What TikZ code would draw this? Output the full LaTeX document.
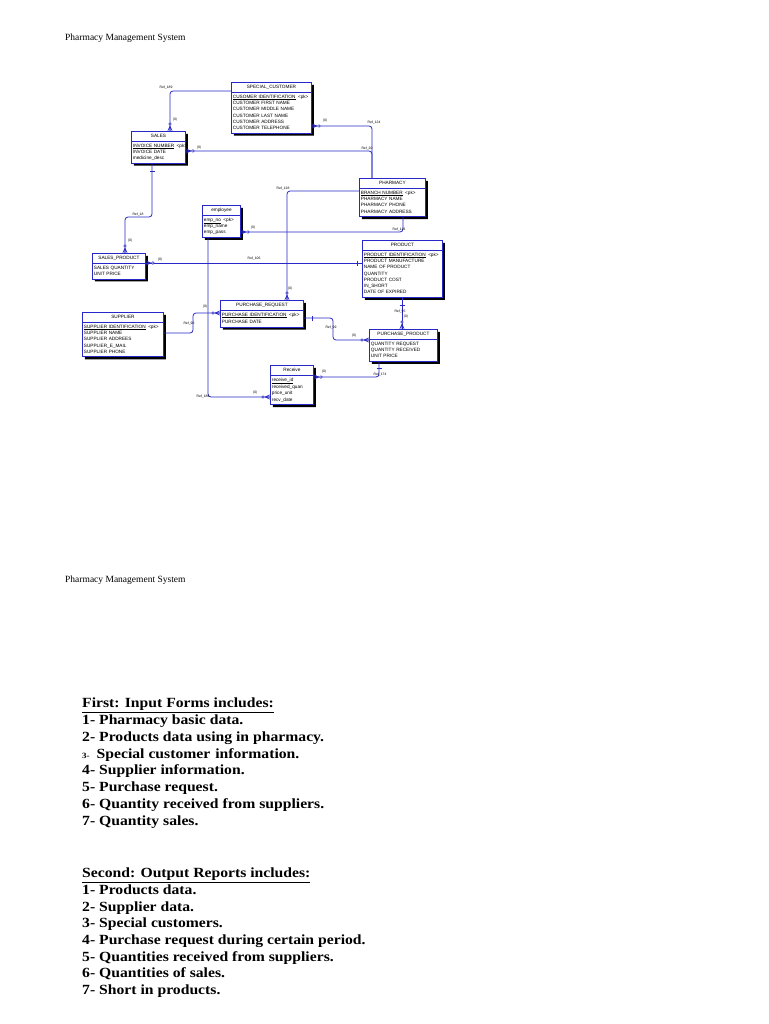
\documentclass[tikz,border=0pt]{standalone}
\usepackage{fontspec}
\setmainfont{Liberation Serif}
\newfontfamily\erdsans{Liberation Sans}
\newfontfamily\notefont[FakeStretch=1.12]{Liberation Serif}
\usetikzlibrary{shapes.multipart,shadows}

\definecolor{erdblue}{RGB}{40,40,200}

\newcommand{\erdfont}{\erdsans\fontsize{4.7}{6.3}\selectfont}
\newcommand{\reffont}{\erdsans\fontsize{3.4}{4}\selectfont}
\newcommand{\pkmark}{\rlap{\hspace{2.5pt}<pk>}}

\tikzset{
  entity/.style={rectangle split, rectangle split parts=2, draw=erdblue, line width=0.9pt,
    fill=white, anchor=north west, align=left, font=\erdfont, inner xsep=1.5pt, inner ysep=1.2pt,
    drop shadow={shadow xshift=2.5pt, shadow yshift=-2.5pt, fill=black, opacity=1}},
  rel/.style={draw=erdblue, line width=0.8pt, rounded corners=3pt},
  reflabel/.style={font=\reffont, inner sep=0.3pt},
  pagehead/.style={anchor=west, inner sep=0pt, font=\fontsize{9.5}{10}\selectfont},
  noteline/.style={anchor=base west, inner sep=0pt, font=\notefont\bfseries\fontsize{14}{16}\selectfont},
  crowfoot/.pic={
    \draw[erdblue, line width=0.6pt] (-5,0) -- (0,-2.2) (-5,0) -- (0,0) (-5,0) -- (0,2.2);
    \draw[erdblue, line width=0.5pt, fill=white] (-7,0) circle (1.3pt);
  },
  onebar/.pic={\draw[erdblue, line width=0.9pt] (0,-2.5) -- (0,2.5);}
}

\begin{document}
\begin{tikzpicture}[x=1pt,y=-1pt]
\fill[white] (0,0) rectangle (768,1024);
\useasboundingbox (0,0) rectangle (768,1024);

\node[pagehead] (head1) at (65,38) {Pharmacy Management System};

% entities
\node[entity, text width=77pt] (spc) at (231,82) {\hfill SPECIAL\_CUSTOMER\hfill\strut
  \nodepart{two}\strut\underline{CUSOMER IDENTIFICATION}\pkmark\\
  CUSTOMER FIRST NAME\\ CUSTOMER MIDDLE NAME\\ CUSTOMER LAST NAME\\
  CUSTOMER ADDRESS\\ CUSTOMER TELEPHONE\strut};
\node[entity, text width=51pt] (sales) at (131,131) {\hfill SALES\hfill\strut
  \nodepart{two}\strut\underline{INVOICE NUMBER}\pkmark\\ INVOICE DATE\\ medicine\_desc\strut};
\node[entity, text width=63pt] (pharm) at (359,178) {\hfill PHARMACY\hfill\strut
  \nodepart{two}\strut\underline{BRANCH NUMBER}\pkmark\\ PHARMACY NAME\\ PHARMACY PHONE\\ PHARMACY ADDRESS\strut};
\node[entity, text width=35pt] (emp) at (202,205) {\hfill employee\hfill\strut
  \nodepart{two}\strut\underline{emp\_no}\pkmark\\ emp\_name\\ emp\_pass\strut};
\node[entity, text width=50pt] (sprod) at (92,253) {\hfill SALES\_PRODUCT\hfill\strut
  \nodepart{two}\strut SALES QUANTITY\\ UNIT PRICE\strut};
\node[entity, text width=77pt] (prod) at (362,240) {\hfill PRODUCT\hfill\strut
  \nodepart{two}\strut\underline{PRODUCT IDENTIFICATION}\pkmark\\ PRODUCT MANUFACTURE\\ NAME OF PRODUCT\\
  QUANTITY\\ PRODUCT COST\\ IN\_SHORT\\ DATE OF EXPIRED\strut};
\node[entity, text width=78pt] (sup) at (82,312) {\hfill SUPPLIER\hfill\strut
  \nodepart{two}\strut\underline{SUPPLIER IDENTIFICATION}\pkmark\\ SUPPLIER NAME\\ SUPPLIER ADDREES\\
  SUPPLIER\_E\_MAIL\\ SUPPLIER PHONE\strut};
\node[entity, text width=80pt] (preq) at (220,300) {\hfill PURCHASE\_REQUEST\hfill\strut
  \nodepart{two}\strut\underline{PURCHASE IDENTIFICATION}\pkmark\\ PURCHASE DATE\strut};
\node[entity, text width=65pt] (pp) at (369,329) {\hfill PURCHASE\_PRODUCT\hfill\strut
  \nodepart{two}\strut QUANTITY REQUEST\\ QUANTITY RECEIVED\\ UNIT PRICE\strut};
\node[entity, text width=40pt] (recv) at (270,365) {\hfill Receive\hfill\strut
  \nodepart{two}\strut\underline{receive\_id}\\ received\_quan\\ price\_unit\\ recv\_date\strut};

% bends of the references
\coordinate (c189) at (170,91);
\coordinate (c124) at (372,126);
\coordinate (c20) at (372,151);
\coordinate (c128) at (287,191);
\coordinate (c119) at (403,232);
\coordinate (c18a) at (152,217);
\coordinate (c18b) at (125,217);
\coordinate (c106) at (254,263);
\coordinate (c96a) at (193,333);
\coordinate (c96b) at (193,313);
\coordinate (c99a) at (333,318);
\coordinate (c99b) at (333,340);
\coordinate (c95) at (402,314);
\coordinate (c174) at (379,377);
\coordinate (c186) at (208,397);

% references
\draw[rel] (spc.west |- c189) -- (c189) -- (c189 |- sales.north);
\draw[rel] (spc.east |- c124) -- (c124) -- (c124 |- pharm.north);
\draw[rel] (sales.east |- c20) -- (c20) -- (c20 |- pharm.north);
\draw[rel] (pharm.west |- c128) -- (c128) -- (c128 |- preq.north);
\draw[rel] (c119 |- pharm.south) -- (c119) -- (emp.east |- c119);
\draw[rel] (c18a |- sales.south) -- (c18a) -- (c18b) -- (c18b |- sprod.north);
\draw[rel] (sprod.east |- c106) -- (prod.west |- c106);
\draw[rel] (sup.east |- c96a) -- (c96a) -- (c96b) -- (preq.west |- c96b);
\draw[rel] (preq.east |- c99a) -- (c99a) -- (c99b) -- (pp.west |- c99b);
\draw[rel] (c95 |- prod.south) -- (c95 |- pp.north);
\draw[rel] (c174 |- pp.south) -- (c174) -- (recv.east |- c174);
\draw[rel] (c186 |- emp.south) -- (c186) -- (recv.west |- c186);

% many ends
\pic[rotate=-90] at (c189 |- sales.north) {crowfoot};
\pic[rotate=180] at (spc.east |- c124) {crowfoot};
\pic[rotate=180] at (sales.east |- c20) {crowfoot};
\pic[rotate=-90] at (c128 |- preq.north) {crowfoot};
\pic[rotate=180] at (emp.east |- c119) {crowfoot};
\pic[rotate=-90] at (c18b |- sprod.north) {crowfoot};
\pic[rotate=180] at (sprod.east |- c106) {crowfoot};
\pic at (preq.west |- c96b) {crowfoot};
\pic at (pp.west |- c99b) {crowfoot};
\pic[rotate=-90] at (c95 |- pp.north) {crowfoot};
\pic[rotate=180] at (recv.east |- c174) {crowfoot};
\pic at (recv.west |- c186) {crowfoot};

% one ends
\pic[rotate=90] at ([yshift=-8pt]c18a |- sales.south) {onebar};
\pic at ([xshift=-5pt]prod.west |- c106) {onebar};
\pic at ([xshift=9pt]preq.east |- c99a) {onebar};
\pic[rotate=90] at ([yshift=-8pt]c95 |- prod.south) {onebar};
\pic[rotate=90] at ([yshift=-7pt]c174 |- pp.south) {onebar};

% reference names and cardinalities
\node[reflabel] (l189) at (166,88) {Ref\_189};
\node[reflabel] (k189) at (175,120) {(0)};
\node[reflabel] (l124) at (374,123) {Ref\_124};
\node[reflabel] (k124) at (325,121) {(0)};
\node[reflabel] (l20) at (367,149) {Ref\_20};
\node[reflabel] (k20) at (199,148) {(0)};
\node[reflabel] (l128) at (283,189) {Ref\_128};
\node[reflabel] (k128) at (290,289) {(0)};
\node[reflabel] (l119) at (399,230) {Ref\_119};
\node[reflabel] (k119) at (253,228) {(0)};
\node[reflabel] (l18) at (138,215) {Ref\_18};
\node[reflabel] (k18) at (130,241) {(0)};
\node[reflabel] (l106) at (254,259) {Ref\_106};
\node[reflabel] (k106) at (160,260) {(0)};
\node[reflabel] (l96) at (189,324) {Ref\_96};
\node[reflabel] (k96) at (205,307) {(0)};
\node[reflabel] (l99) at (331,328) {Ref\_99};
\node[reflabel] (k99) at (354,336) {(0)};
\node[reflabel] (l95) at (400,312) {Ref\_95};
\node[reflabel] (k95) at (406,317) {(0)};
\node[reflabel] (l174) at (380,375) {Ref\_174};
\node[reflabel] (k174) at (324,372) {(0)};
\node[reflabel] (l186) at (203,397) {Ref\_186};
\node[reflabel] (k186) at (255,393) {(0)};

% second page
\node[pagehead] (head2) at (65,580) {Pharmacy Management System};

\node[noteline] (inhead) at (82,707.5) {\underline{First: Input Forms includes:}};
\foreach \txt [count=\i] in {1- Pharmacy basic data., 2- Products data using in pharmacy.,
    {{\fontsize{8}{8}\selectfont 3-}\hspace{7pt}Special customer\hspace{5pt}information.},
    4- Supplier information., 5- Purchase request., 6- Quantity received from suppliers.,
    7- Quantity sales.}
  \node[noteline] (in\i) at (82,{724.5+16.83*(\i-1)}) {\txt};

\node[noteline] (outhead) at (82,877.5) {\underline{Second: Output Reports includes:}};
\foreach \txt [count=\i] in {1- Products data., 2- Supplier data., 3- Special customers.,
    4- Purchase request during certain period., 5- Quantities received from suppliers.,
    6- Quantities of sales., 7- Short in products.}
  \node[noteline] (out\i) at (82,{894.5+16.67*(\i-1)}) {\txt};
\end{tikzpicture}
\end{document}
